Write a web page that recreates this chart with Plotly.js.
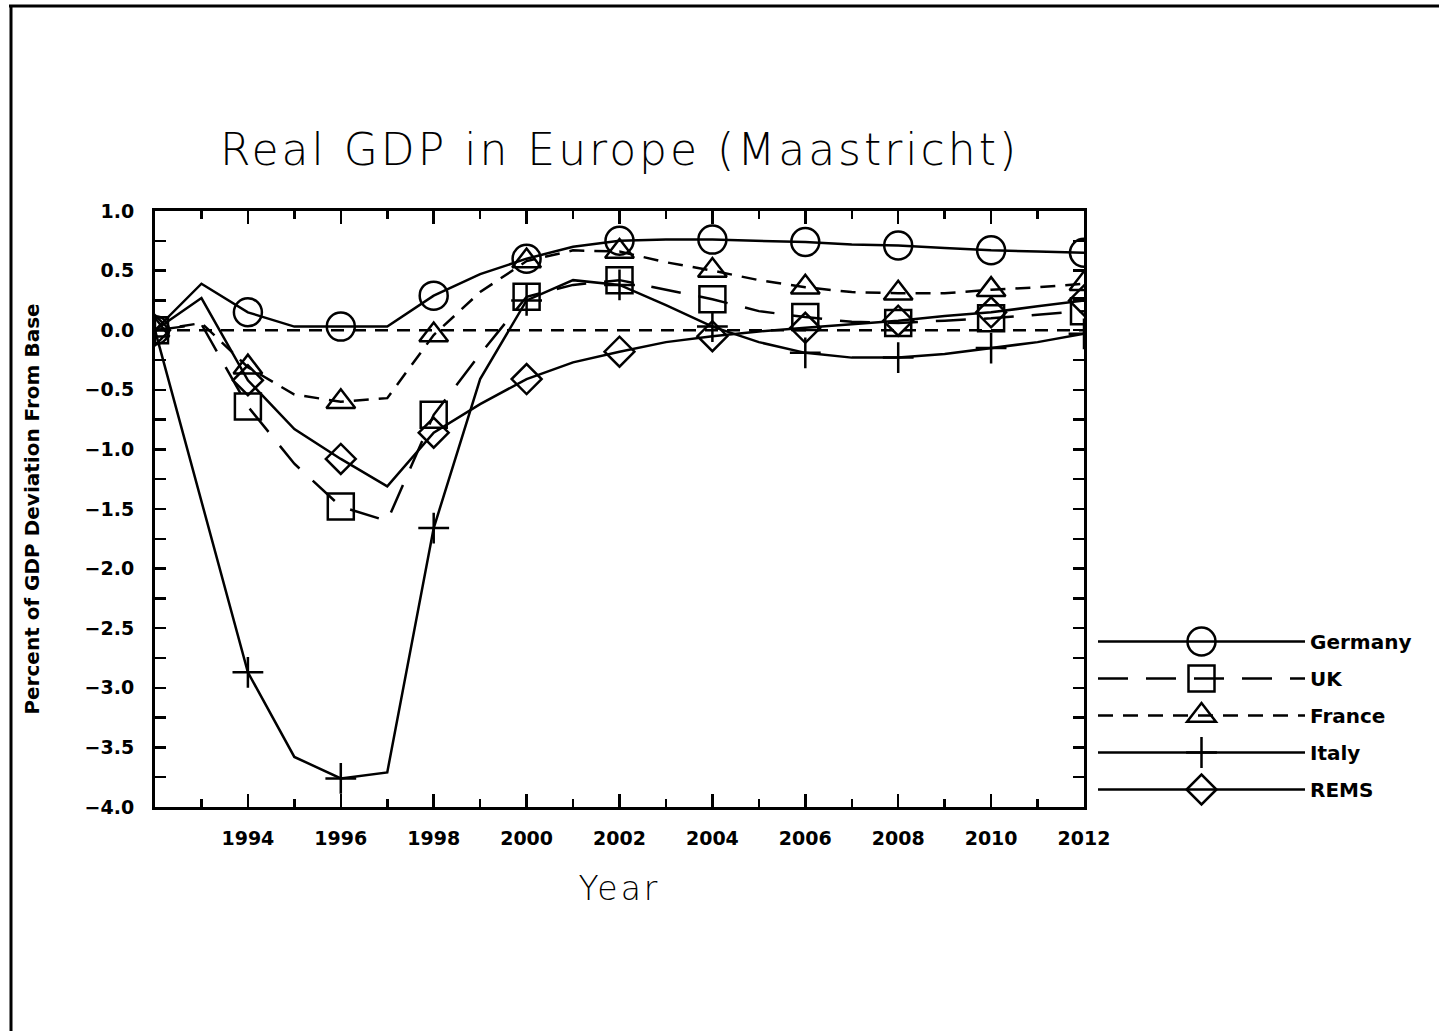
<!DOCTYPE html>
<html>
<head>
<meta charset="utf-8">
<script src="https://cdn.plot.ly/plotly-3.0.1.min.js"></script>
<style>
html,body{margin:0;padding:0;background:#fff;}
#chart{width:1439px;height:1031px;}
</style>
</head>
<body>
<div id="chart"></div>
<script>
// ---- data ----
const years = [1992,1993,1994,1995,1996,1997,1998,1999,2000,2001,2002,2003,2004,2005,2006,2007,2008,2009,2010,2011,2012];

const germany = [0.00, 0.39, 0.15, 0.03, 0.03, 0.03, 0.29, 0.47, 0.60, 0.70, 0.75, 0.76, 0.76, 0.75, 0.74, 0.72, 0.71, 0.69, 0.67, 0.66, 0.65];
const uk      = [0.00, 0.05, -0.64, -1.12, -1.48, -1.60, -0.71, -0.20, 0.28, 0.38, 0.42, 0.34, 0.26, 0.16, 0.11, 0.07, 0.06, 0.08, 0.10, 0.13, 0.16];
const france  = [0.00, 0.06, -0.31, -0.54, -0.60, -0.57, -0.04, 0.32, 0.58, 0.67, 0.66, 0.57, 0.50, 0.42, 0.36, 0.32, 0.31, 0.31, 0.34, 0.36, 0.39];
const italy   = [0.00, -1.43, -2.87, -3.58, -3.76, -3.71, -1.66, -0.41, 0.25, 0.42, 0.38, 0.21, 0.03, -0.10, -0.19, -0.23, -0.23, -0.20, -0.15, -0.10, -0.03];
const rems    = [0.00, 0.27, -0.42, -0.83, -1.08, -1.31, -0.86, -0.62, -0.41, -0.27, -0.18, -0.10, -0.05, -0.01, 0.02, 0.05, 0.08, 0.12, 0.15, 0.20, 0.25];

const seriesNames = ['Germany', 'UK', 'France', 'Italy', 'REMS'];
const baselineValue = 0;

const xTickYears  = [1994, 1996, 1998, 2000, 2002, 2004, 2006, 2008, 2010, 2012];
const xTickLabels = ['1994', '1996', '1998', '2000', '2002', '2004', '2006', '2008', '2010', '2012'];
const yTickVals   = [1.0, 0.5, 0.0, -0.5, -1.0, -1.5, -2.0, -2.5, -3.0, -3.5, -4.0];
const yTickLabels = ['1.0', '0.5', '0.0', '\u22120.5', '\u22121.0', '\u22121.5', '\u22122.0', '\u22122.5', '\u22123.0', '\u22123.5', '\u22124.0'];

const titleText = 'Real GDP in Europe (Maastricht)';
const xTitleText = 'Year';
const yTitleText = 'Percent of GDP Deviation From Base';

// ---- styling ----
const BLACK = '#000';
const LW = 2.5;

function makeTrace(name, values, dash, symbol, size) {
  return {
    type: 'scatter',
    mode: 'lines+markers',
    name: name,
    legendgroup: name,
    x: years,
    y: values,
    line: {color: BLACK, width: LW, dash: dash},
    marker: {
      symbol: symbol,
      size: years.map(function (yr) { return yr % 2 === 0 ? size : 0; }),
      opacity: 1,
      color: BLACK,
      line: {color: BLACK, width: LW}
    },
    hoverinfo: 'x+y+name'
  };
}

const traces = [
  makeTrace(seriesNames[0], germany, 'solid', 'circle-open', 28),
  makeTrace(seriesNames[1], uk, '30px,18px', 'square-open', 26),
  makeTrace(seriesNames[2], france, '15px,10px', 'triangle-up-open', 25),
  makeTrace(seriesNames[3], italy, 'solid', 'cross-thin-open', 22),
  makeTrace(seriesNames[4], rems, 'solid', 'diamond-open', 23)
];

const tickFont = {family: 'DejaVu Sans', size: 19, color: BLACK, weight: 'bold'};

// plot area in pixels: x 155..1084, y 211..807
const PL = 155, PR = 1084, PT = 211, PB = 807, W = 1439, H = 1031;
function px2paperX(px) { return (px - PL) / (PR - PL); }
function px2paperY(py) { return (PB - py) / (PB - PT); }

const layout = {
  width: W,
  height: H,
  margin: {l: PL, r: W - PR, t: PT, b: H - PB, autoexpand: false},
  paper_bgcolor: '#fff',
  plot_bgcolor: '#fff',
  showlegend: true,
  title: {
    text: titleText,
    x: 0.5, xref: 'paper', xanchor: 'center',
    y: 1 - 150 / H, yref: 'container', yanchor: 'middle',
    font: {family: 'DejaVu Sans', size: 44, color: BLACK, weight: 300}
  },
  xaxis: {
    range: [1992, 2012],
    tickmode: 'array',
    tickvals: xTickYears,
    ticktext: xTickLabels,
    ticks: 'inside',
    ticklen: 13,
    tickwidth: LW,
    tickcolor: BLACK,
    showline: true,
    linewidth: 3,
    linecolor: BLACK,
    mirror: 'ticks',
    showgrid: false,
    zeroline: false,
    tickfont: tickFont,
    ticklabelstandoff: 12,
    minor: {tickmode: 'linear', tick0: 1993, dtick: 2, ticks: 'inside', ticklen: 8, tickwidth: LW, tickcolor: BLACK, showgrid: false},
    title: {text: xTitleText, standoff: 30, font: {family: 'DejaVu Sans', size: 33, color: BLACK, weight: 300}}
  },
  yaxis: {
    range: [-4, 1],
    tickmode: 'array',
    tickvals: yTickVals,
    ticktext: yTickLabels,
    ticks: 'inside',
    ticklen: 11,
    tickwidth: LW,
    tickcolor: BLACK,
    showline: true,
    linewidth: 3,
    linecolor: BLACK,
    mirror: 'ticks',
    showgrid: false,
    zeroline: false,
    tickfont: tickFont,
    ticklabelstandoff: 14,
    minor: {tickmode: 'linear', tick0: 0.25, dtick: 0.5, ticks: 'inside', ticklen: 11, tickwidth: LW, tickcolor: BLACK, showgrid: false},
    title: {text: yTitleText, standoff: 40, font: {family: 'DejaVu Sans', size: 20, color: BLACK, weight: 'bold'}}
  },
  legend: {
    x: px2paperX(1093), xanchor: 'left',
    y: px2paperY(622), yanchor: 'top',
    itemwidth: 207,
    tracegroupgap: 8,
    traceorder: 'grouped',
    bgcolor: 'rgba(0,0,0,0)',
    borderwidth: 0,
    font: {family: 'DejaVu Sans', size: 20, color: BLACK, weight: 'bold'}
  },
  shapes: [
    {type: 'line', xref: 'x domain', yref: 'y', x0: 0, x1: 1, y0: baselineValue, y1: baselineValue,
     line: {color: BLACK, width: LW, dash: '13px,9px'}, layer: 'below'},
    {type: 'line', xref: 'paper', yref: 'paper', x0: px2paperX(9), x1: px2paperX(W), y0: px2paperY(6), y1: px2paperY(6),
     line: {color: BLACK, width: 3}},
    {type: 'line', xref: 'paper', yref: 'paper', x0: px2paperX(11), x1: px2paperX(11), y0: px2paperY(5), y1: px2paperY(H),
     line: {color: BLACK, width: 3}}
  ]
};

function touchUp(gd) {
  // legend markers: restore full marker size (legend uses the mean of the size array)
  var factor = years.length / years.filter(function (yr) { return yr % 2 === 0; }).length;
  gd.querySelectorAll('.legend .legendpoints path.scatterpts').forEach(function (p) {
    if (p.getAttribute('data-scaled')) return;
    var t = p.getAttribute('transform') || '';
    p.setAttribute('transform', t + ' scale(' + factor + ')');
    p.setAttribute('data-scaled', '1');
    p.style.vectorEffect = 'non-scaling-stroke';
  });
  // widen letter spacing of the title and x-axis title like the reference lettering
  var t = gd.querySelector('.gtitle');
  if (t) t.style.letterSpacing = '3px';
  var xt = gd.querySelector('.xtitle');
  if (xt) xt.style.letterSpacing = '3px';
}

Plotly.newPlot('chart', traces, layout, {displayModeBar: false, staticPlot: true}).then(function (gd) {
  touchUp(gd);
  setTimeout(function () { touchUp(gd); }, 50);
});
</script>
</body>
</html>
